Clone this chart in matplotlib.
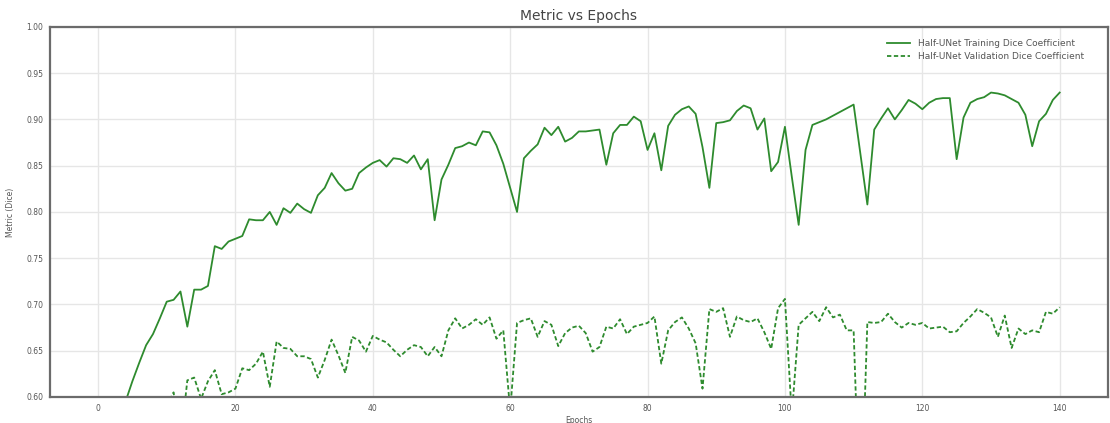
import numpy as np
import matplotlib
matplotlib.use("Agg")
import matplotlib.pyplot as plt

# Dice coefficient per epoch for the Half-UNet run
train_dice = [
    0.500, 0.525, 0.550, 0.573, 0.595, 0.617, 0.637, 0.656, 0.668, 0.685,
    0.703, 0.705, 0.714, 0.676, 0.716, 0.716, 0.720, 0.763, 0.760, 0.768,
    0.771, 0.774, 0.792, 0.791, 0.791, 0.800, 0.786, 0.804, 0.799, 0.809,
    0.803, 0.799, 0.818, 0.826, 0.842, 0.831, 0.823, 0.825, 0.842, 0.848,
    0.853, 0.856, 0.849, 0.858, 0.857, 0.853, 0.861, 0.846, 0.857, 0.791,
    0.835, 0.851, 0.869, 0.871, 0.875, 0.872, 0.887, 0.886, 0.872, 0.852,
    0.826, 0.800, 0.858, 0.866, 0.873, 0.891, 0.883, 0.892, 0.876, 0.880,
    0.887, 0.887, 0.888, 0.889, 0.851, 0.885, 0.894, 0.894, 0.903, 0.898,
    0.867, 0.885, 0.845, 0.893, 0.905, 0.911, 0.914, 0.906, 0.870, 0.826,
    0.896, 0.897, 0.899, 0.909, 0.915, 0.912, 0.889, 0.901, 0.844, 0.854,
    0.892, 0.838, 0.786, 0.867, 0.894, 0.897, 0.900, 0.904, 0.908, 0.912,
    0.916, 0.862, 0.808, 0.889, 0.901, 0.912, 0.900, 0.910, 0.921, 0.917,
    0.911, 0.918, 0.922, 0.923, 0.923, 0.857, 0.902, 0.918, 0.922, 0.924,
    0.929, 0.928, 0.926, 0.922, 0.918, 0.905, 0.871, 0.898, 0.906, 0.921,
    0.929,
]
val_dice = [
    0.350, 0.420, 0.470, 0.500, 0.530, 0.550, 0.560, 0.570, 0.580, 0.585,
    0.590, 0.605, 0.550, 0.618, 0.621, 0.598, 0.617, 0.629, 0.603, 0.605,
    0.609, 0.631, 0.629, 0.636, 0.649, 0.611, 0.660, 0.653, 0.652, 0.644,
    0.644, 0.641, 0.621, 0.640, 0.662, 0.645, 0.626, 0.665, 0.661, 0.649,
    0.666, 0.662, 0.659, 0.651, 0.644, 0.651, 0.656, 0.654, 0.644, 0.654,
    0.644, 0.672, 0.685, 0.674, 0.678, 0.684, 0.678, 0.686, 0.663, 0.672,
    0.585, 0.680, 0.683, 0.685, 0.665, 0.682, 0.678, 0.655, 0.669, 0.675,
    0.677, 0.669, 0.649, 0.654, 0.676, 0.674, 0.684, 0.668, 0.676, 0.678,
    0.680, 0.687, 0.636, 0.672, 0.681, 0.686, 0.674, 0.658, 0.609, 0.695,
    0.692, 0.696, 0.665, 0.687, 0.683, 0.681, 0.685, 0.670, 0.652, 0.696,
    0.706, 0.580, 0.678, 0.685, 0.692, 0.682, 0.697, 0.686, 0.689, 0.672,
    0.672, 0.450, 0.681, 0.680, 0.681, 0.690, 0.681, 0.675, 0.680, 0.678,
    0.680, 0.674, 0.675, 0.676, 0.670, 0.671, 0.680, 0.687, 0.695, 0.691,
    0.686, 0.665, 0.688, 0.653, 0.674, 0.668, 0.672, 0.670, 0.692, 0.690,
    0.697,
]
epochs = np.arange(len(train_dice))

x_ticks = [0, 20, 40, 60, 80, 100, 120, 140]
y_ticks = [0.60, 0.65, 0.70, 0.75, 0.80, 0.85, 0.90, 0.95, 1.00]

fig = plt.figure(figsize=(11.1, 4.23), dpi=100)
ax = fig.add_axes([0.045, 0.0615, 0.953, 0.875])

line_color = "#2e8b2e"
ax.plot(epochs, train_dice, color=line_color, lw=1.3, label="Half-UNet Training Dice Coefficient")
ax.plot(epochs, val_dice, color=line_color, lw=1.3, ls=(0, (2.4, 1.4)),
        label="Half-UNet Validation Dice Coefficient")

ax.set_xlim(-7, 147)
ax.set_ylim(0.60, 1.00)
ax.set_xticks(x_ticks)
ax.set_yticks(y_ticks)
ax.set_yticklabels([f"{t:.2f}" for t in y_ticks])

ax.grid(True, color="#e6e6e6", lw=1.0)
ax.set_axisbelow(True)
for s in ax.spines.values():
    s.set_color("#6b6b6b")
    s.set_linewidth(1.6)
ax.tick_params(length=0, labelsize=5.5, labelcolor="#555555", pad=5)

ax.set_title("Metric vs Epochs", fontsize=10, color="#444444", pad=5)
ax.set_xlabel("Epochs", fontsize=5.5, color="#555555", labelpad=2)
ax.set_ylabel("Metric (Dice)", fontsize=5.5, color="#555555", labelpad=8)

leg = ax.legend(loc="upper right", fontsize=6.5, frameon=False, handlelength=2.6,
                bbox_to_anchor=(0.985, 0.99), labelspacing=0.45)
for t in leg.get_texts():
    t.set_color("#555555")

fig.savefig("out.png", dpi=100)
